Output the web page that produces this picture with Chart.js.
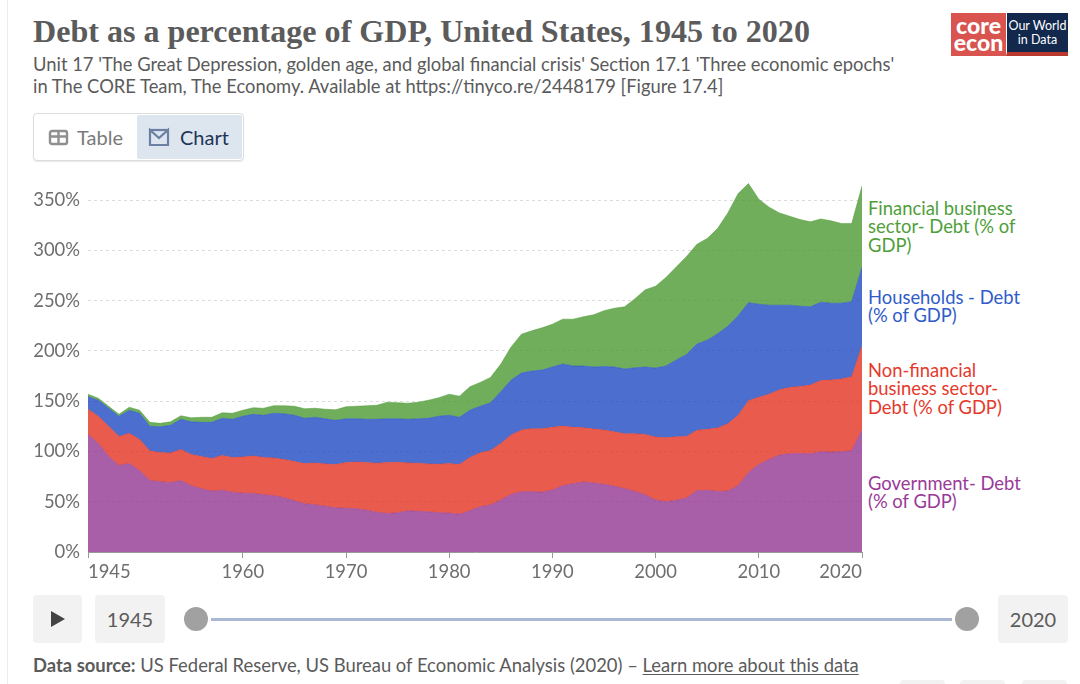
<!DOCTYPE html>
<html>
<head>
<meta charset="utf-8">
<script src="https://cdn.jsdelivr.net/npm/chart.js@4"></script>
<style>
  html, body { margin: 0; padding: 0; background: #fff; }
  body { position: relative; width: 1080px; height: 684px; overflow: hidden; font-family: Lato, sans-serif; color: #5b5b5b; }
  .abs { position: absolute; white-space: nowrap; }
  #edge { left: 7px; top: 0; width: 1px; height: 684px; background: #ececec; }
  #title { left: 33px; top: 11px; font: bold 32.1px/40px "Liberation Serif", serif; color: #5b5b5b; }
  #subtitle { left: 33px; top: 53px; font-size: 18.36px; line-height: 22px; color: #5b5b5b; }
  #logo-core { left: 951px; top: 13px; width: 55px; height: 43px; background: #d9534f; color: #fff; font: 900 23px/17px Lato, sans-serif; text-align: center; padding-top: 4px; box-sizing: border-box; }
  #logo-owid { left: 1006px; top: 13px; width: 62px; height: 43px; background: #12284c; color: #fff; font-size: 12.5px; line-height: 14px; text-align: center; padding-top: 6px; box-sizing: border-box; border-bottom: 4px solid #b9372c; border-left: 1px solid #fff; }
  #tabs { left: 33px; top: 113px; width: 211px; height: 48px; border: 1px solid #dcdcdc; border-radius: 4px; box-sizing: border-box; box-shadow: 0 1px 1px #e8e8e8; }
  #tab-on { left: 137px; top: 115px; width: 105px; height: 44px; background: #dde5ef; border-radius: 2px; }
  .tabtext { top: 125px; font-size: 20px; line-height: 24px; }
  svg.abs { overflow: visible; }
  #chart-box { left: 0; top: 163px; width: 866px; height: 427px; }
  .series-label { left: 868px; font-size: 18.4px; line-height: 18.3px; }
  .btn { background: #f2f2f2; border-radius: 4px; top: 595px; height: 48px; line-height: 48px; text-align: center; font-size: 20px; color: #5b5b5b; }
  .knob { top: 607px; width: 24px; height: 24px; border-radius: 50%; background: #a1a1a1; }
  #track { left: 211px; top: 618px; width: 741px; height: 3px; background: #a9b9d3; }
  #source { left: 33px; top: 654px; font-size: 18.42px; line-height: 22px; color: #5b5b5b; }
  #source b { font-weight: 700; }
  #source u { text-underline-offset: 2px; }
  .foot { background: #f2f2f2; top: 680px; height: 20px; width: 45px; border-radius: 4px; }
</style>
</head>
<body>
<div class="abs" id="edge"></div>
<div class="abs" id="title">Debt as a percentage of GDP, United States, 1945 to 2020</div>
<div class="abs" id="subtitle">Unit 17 'The Great Depression, golden age, and global financial crisis' Section 17.1 'Three economic epochs'<br>in The CORE Team, The Economy. Available at https://tinyco.re/2448179 [Figure 17.4]</div>
<div class="abs" id="logo-core">core<br>econ</div>
<div class="abs" id="logo-owid">Our World<br>in Data</div>

<div class="abs" id="tabs"></div>
<div class="abs" id="tab-on"></div>
<svg class="abs" style="left:49px;top:130px" width="20" height="16" fill="none" stroke="#8f8f8f" stroke-width="2.4">
  <rect x="1" y="1" width="17" height="13" rx="2"/><path d="M1 6.5H18M9.5 1V14"/>
</svg>
<div class="abs tabtext" style="left:77px;color:#7a7a7a">Table</div>
<svg class="abs" style="left:149px;top:129px" width="20" height="18" fill="none" stroke="#6b80a3" stroke-width="2.2">
  <path d="M1 1V16H19V1L10 9Z"/><path d="M1 1H19"/>
</svg>
<div class="abs tabtext" style="left:180px;color:#1d3557">Chart</div>

<div class="abs" id="chart-box"><canvas id="chart" width="866" height="427"></canvas></div>
<div id="labels"></div>

<div class="abs btn" style="left:33px;width:49px"></div>
<svg class="abs" style="left:51px;top:611px" width="15" height="16"><path d="M0 0L14 8L0 16Z" fill="#444"/></svg>
<div class="abs btn" style="left:95px;width:70px">1945</div>
<div class="abs" id="track"></div>
<div class="abs knob" style="left:184px"></div>
<div class="abs knob" style="left:955px"></div>
<div class="abs btn" style="left:998px;width:70px">2020</div>
<div class="abs" id="source"><b>Data source:</b> US Federal Reserve, US Bureau of Economic Analysis (2020) – <u>Learn more about this data</u></div>
<div class="abs foot" style="left:900px"></div>
<div class="abs foot" style="left:960px"></div>
<div class="abs foot" style="left:1022px"></div>

<script>
const years = [];
for (let y = 1945; y <= 2020; y++) years.push(y);

const government = [117,108,95,86,88,81,71,70,69,71,66,63,60.5,61.5,59.5,58.5,58.3,57,56,54,51,48,47,45.5,44,43.5,43,41.5,39.5,38.3,39,41,40.5,40,39,38.7,37.5,41,45,46.7,51.7,57.3,60,60,59.6,61.6,66,68,69.6,68.6,67.3,65.3,63,60.3,56.7,51.7,50,51.4,53.7,61,61.3,60.3,60.6,66,79,87,92,96.4,97.7,98,97.7,99.7,99.4,99.7,100.7,121.3];
const nonFinancial = [25,27,30,29,30,31,29.5,29,29.5,31,31,32,32.5,34.5,34.5,36,37.2,37,37.5,38,39,40,41.6,42.1,43,45.5,46.6,47.5,48.8,50.7,50.3,47.6,47.8,47.6,48.3,49.3,49.5,53,53.7,54.3,56.3,59,61.3,62.6,63,62.4,59.3,56,54,53.7,54,54.3,54.6,57.3,60.3,62.6,63.6,63.2,61.3,60,60.7,63,67,70,71.4,67,65,65,66,66.7,68.3,70.9,71.6,72.3,73.6,83.7];
const households = [12.5,16,18,20,23,26,24.5,25.5,27.5,30,32.5,34,36,37,38,40.5,41.5,42,44.5,45.5,46,45,45.4,44.9,44,43.5,42.9,43,43.7,43.5,43.2,43.4,44.2,45.4,47.7,48,47,47,46.3,47.4,51.4,54.7,56.7,57.4,58.4,60,61.7,61,61.4,61.7,63.3,64.4,64.4,65.6,67,68.7,71.4,76.4,81.5,85.8,88.7,93.7,97,99,97.6,92.5,88.5,84.1,81.8,79.8,77.9,77.9,76.5,75.5,74.7,78.6];
const financial = [2.5,2,2,2,3,3,4,3.5,3.5,3.5,4,5,5,5.5,6,6,6.5,7,7.5,8,9,9.5,9,9.5,10.5,12,12.5,13.5,14,16.5,16,16,16.5,18,18.5,21,21,23.3,23.7,25.2,27.5,33,38.7,40,42,42.6,44.6,46.6,49,52,55.4,58.5,61.9,68.8,76.8,81.4,88,92.6,97.5,99.2,101.1,104.7,112.7,121.5,118.5,104.5,97.5,91.8,88.5,86.2,84.5,82.8,81.9,79.2,77.7,80.4];

const xTicks = [1945, 1960, 1970, 1980, 1990, 2000, 2010, 2020];
const yTicks = [0, 50, 100, 150, 200, 250, 300, 350];

const seriesNames = ["Government- Debt (% of GDP)", "Non-financial business sector- Debt (% of GDP)", "Households - Debt (% of GDP)", "Financial business sector- Debt (% of GDP)"];
const seriesLines = [
    ["Government- Debt", "(% of GDP)"],
    ["Non-financial", "business sector-", "Debt (% of GDP)"],
    ["Households - Debt", "(% of GDP)"],
    ["Financial business", "sector- Debt (% of", "GDP)"]
];
const seriesColors = ["#933792", "#E23220", "#1F4BC3", "#4C9A33"];
const seriesLabelColors = ["#993a99", "#e5392b", "#2f5cc9", "#4f9e3a"];
const seriesLabelTops = [474, 361, 288, 199];

const makeSet = (label, data, i) => ({
    label,
    data: years.map((y, k) => ({ x: y, y: data[k] })),
    fill: i === 0 ? "origin" : "-1",
    backgroundColor: seriesColors[i] + "CC",
    borderColor: seriesColors[i] + "99",
    borderWidth: 0.8,
    pointRadius: 0,
    tension: 0
});

// first and last year labels sit inside the plot ends, which ticks.align can't do per tick
const edgeYears = {
    id: "edgeYears",
    afterDraw(chart) {
        const { ctx, scales } = chart;
        const y = scales.x.top + 20;
        ctx.save();
        ctx.font = "18.4px Lato";
        ctx.fillStyle = "#6e6e6e";
        ctx.textBaseline = "middle";
        ctx.textAlign = "left";
        ctx.fillText(String(xTicks[0]), scales.x.getPixelForValue(xTicks[0]), y);
        ctx.textAlign = "right";
        ctx.fillText(String(xTicks[7]), scales.x.getPixelForValue(xTicks[7]), y);
        ctx.restore();
    }
};

const canvas = document.getElementById("chart");
new Chart(canvas.getContext("2d"), {
    type: "line",
    data: {
        datasets: [
            makeSet(seriesNames[0], government, 0),
            makeSet(seriesNames[1], nonFinancial, 1),
            makeSet(seriesNames[2], households, 2),
            makeSet(seriesNames[3], financial, 3)
        ]
    },
    options: {
        responsive: false,
        animation: false,
        plugins: { legend: { display: false }, tooltip: { enabled: false } },
        layout: { padding: { top: 10, right: 4, left: 0, bottom: 0 } },
        scales: {
            x: {
                type: "linear",
                min: 1945,
                max: 2020,
                afterBuildTicks: (scale) => { scale.ticks = xTicks.map(v => ({ value: v })); },
                afterFit: (scale) => { scale.height = 38; },
                grid: { drawOnChartArea: false, drawTicks: true, tickLength: 6, color: "#999", tickColor: "#999" },
                border: { color: "#999" },
                ticks: {
                    autoSkip: false,
                    maxRotation: 0,
                    padding: 3,
                    font: { family: "Lato", size: 18.4 },
                    color: "#6e6e6e",
                    callback: (v) => (v === 1945 || v === 2020 ? "" : String(v))
                }
            },
            y: {
                stacked: true,
                min: 0,
                max: 368,
                afterBuildTicks: (scale) => { scale.ticks = yTicks.map(v => ({ value: v })); },
                afterFit: (scale) => { scale.width = 88; },
                grid: { color: "#dddddd", drawTicks: false, lineWidth: 1 },
                border: { display: false, dash: [3, 3] },
                ticks: {
                    padding: 8,
                    font: { family: "Lato", size: 18.4 },
                    color: "#6e6e6e",
                    callback: (v) => v + "%"
                }
            }
        }
    },
    plugins: [edgeYears]
});

const labelBox = document.getElementById("labels");
seriesLines.forEach((lines, i) => {
    const el = document.createElement("div");
    el.className = "abs series-label";
    el.style.top = seriesLabelTops[i] + "px";
    el.style.color = seriesLabelColors[i];
    el.innerHTML = lines.join("<br>");
    labelBox.appendChild(el);
});
</script>
</body>
</html>
